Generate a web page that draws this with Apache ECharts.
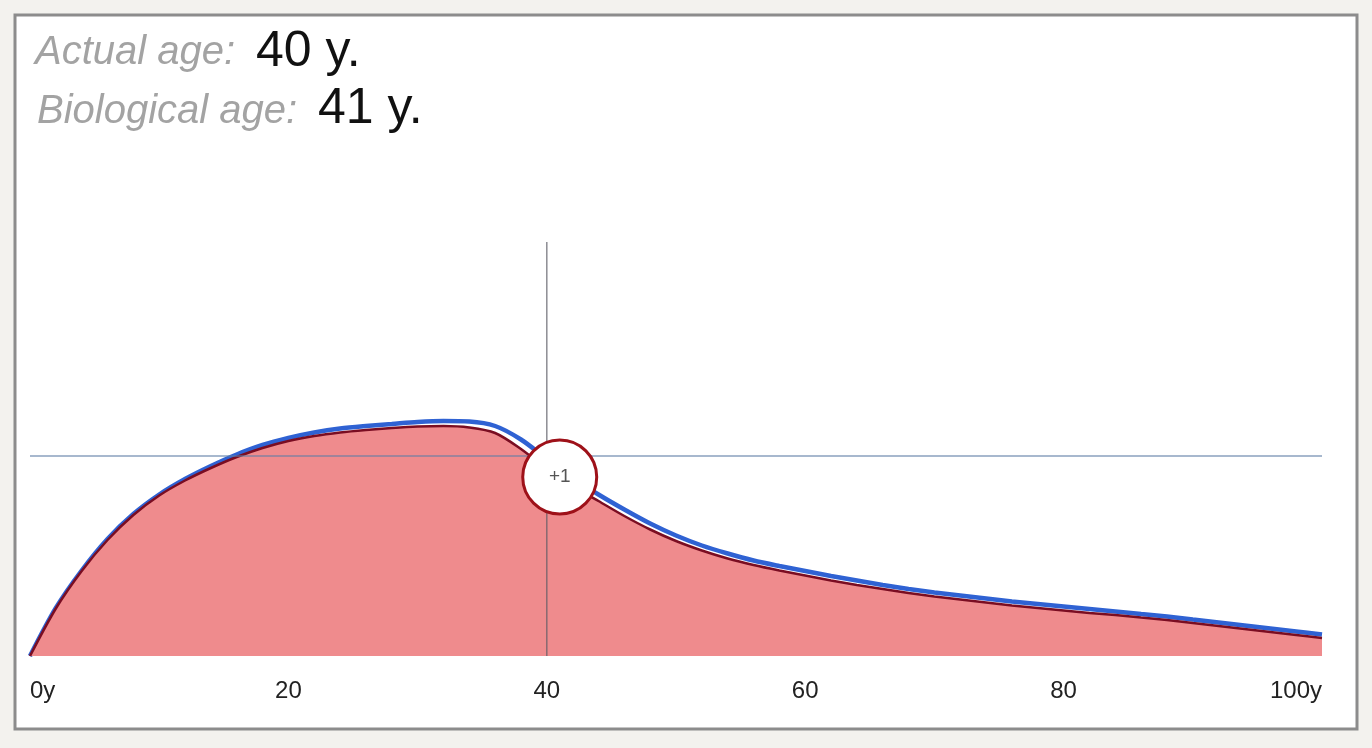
<!DOCTYPE html>
<html>
<head>
<meta charset="utf-8">
<title>Biological age</title>
<script src="https://cdn.jsdelivr.net/npm/echarts@6/dist/echarts.min.js"></script>
<style>
    html, body { margin: 0; padding: 0; background: #f3f2ee; }
    #ageChart { width: 1372px; height: 748px; }
</style>
</head>
<body>
<div id="ageChart"></div>
<script>
// 年龄（x轴），每2年一个点
var ages = [0, 2, 4, 6, 8, 10, 12, 14, 16, 18, 20, 22, 24, 26, 28, 30, 32, 34, 36, 38, 40,
    42, 44, 46, 48, 50, 52, 54, 56, 58, 60, 62, 64, 66, 68, 70, 72, 74, 76, 78, 80,
    82, 84, 86, 88, 90, 92, 94, 96, 98, 100];
// 生物年龄曲线（红色，带填充）
var bioValues = [0, 9.5, 17.0, 23.2, 28.2, 32.1, 35.1, 37.6, 39.8, 41.6, 43.0, 44.0, 44.7, 45.2, 45.6, 45.9, 46.0, 45.7, 44.6, 41.4, 37.4,
    34.0, 31.0, 28.0, 25.3, 23.0, 21.1, 19.5, 18.2, 17.1, 16.1, 15.1, 14.2, 13.4, 12.6, 11.9, 11.3, 10.7, 10.1, 9.6, 9.1,
    8.6, 8.2, 7.7, 7.2, 6.6, 6.0, 5.4, 4.8, 4.2, 3.6];
// 实际年龄曲线（蓝色）
var actualValues = [0, 9.6, 17.1, 23.4, 28.4, 32.3, 35.4, 38.0, 40.3, 42.2, 43.6, 44.7, 45.5, 46.0, 46.4, 46.8, 47.0, 46.9, 46.0, 43.3, 39.4,
    35.6, 32.3, 29.3, 26.5, 24.1, 22.1, 20.5, 19.1, 18.0, 17.0, 16.0, 15.1, 14.2, 13.4, 12.7, 12.1, 11.5, 10.9, 10.4, 9.9,
    9.4, 8.9, 8.4, 7.9, 7.3, 6.7, 6.1, 5.5, 4.9, 4.3];
// x轴刻度
var xTicks = [0, 20, 40, 60, 80, 100];
// 十字线和标记
var actualAge = 40;
var bioAge = 41;
var crossLevel = 40;      // 水平线的值
var crossTop = 82.8;      // 竖线顶端
var markerY = 35.8;       // 圆圈位置
var markerText = '+1';

var FONT = "'Liberation Sans', Arial, Helvetica, sans-serif";

function toPairs(xs, ys) {
    var out = [];
    for (var i = 0; i < xs.length; i++) {
        out.push([xs[i], ys[i]]);
    }
    return out;
}

function createChart() {
    var dom = document.getElementById('ageChart');
    var myChart = echarts.init(dom, null, { renderer: 'canvas' });

    var option = {
        backgroundColor: '#f3f2ee',
        animation: false,
        graphic: [
            {   // 白色边框
                type: 'rect',
                z: -10,
                shape: { x: 15, y: 15, width: 1342, height: 714 },
                style: { fill: '#ffffff', stroke: '#8c8c8c', lineWidth: 3 }
            },
            {
                type: 'text', left: 35, top: 33,
                style: { text: 'Actual age:', font: 'italic 40px ' + FONT, fill: '#a3a3a3' }
            },
            {
                type: 'text', left: 256, top: 27,
                style: { text: actualAge + ' y.', font: '50px ' + FONT, fill: '#111111' }
            },
            {
                type: 'text', left: 37, top: 92,
                style: { text: 'Biological age:', font: 'italic 40px ' + FONT, fill: '#a3a3a3' }
            },
            {
                type: 'text', left: 318, top: 84,
                style: { text: bioAge + ' y.', font: '50px ' + FONT, fill: '#111111' }
            }
        ],
        grid: { left: 30, right: 50, top: 156, bottom: 92, containLabel: false },
        xAxis: {
            type: 'value',
            min: xTicks[0],
            max: xTicks[xTicks.length - 1],
            interval: 20,
            axisLine: { show: false },
            axisTick: { show: false },
            splitLine: { show: false },
            axisLabel: {
                margin: 23,
                fontSize: 24,
                fontFamily: FONT,
                color: '#222222',
                alignMinLabel: 'left',
                alignMaxLabel: 'right',
                formatter: function (v) {
                    if (v === xTicks[0] || v === xTicks[xTicks.length - 1]) {
                        return v + 'y';
                    }
                    return v;
                }
            }
        },
        yAxis: { type: 'value', min: 0, max: 100, show: false },
        series: [
            {   // 蓝色曲线
                name: 'actual',
                type: 'line',
                z: 2,
                smooth: 0.3,
                showSymbol: false,
                data: toPairs(ages, actualValues),
                lineStyle: { color: '#2f62d3', width: 4.5 }
            },
            {   // 红色曲线 + 填充
                name: 'biological',
                type: 'line',
                z: 3,
                smooth: 0.3,
                showSymbol: false,
                data: toPairs(ages, bioValues),
                lineStyle: { color: '#7a0d22', width: 2.5 },
                areaStyle: { color: '#ef8b8d', opacity: 1 }
            },
            {   // 水平线
                type: 'line',
                z: 4,
                showSymbol: false,
                data: [[xTicks[0], crossLevel], [xTicks[xTicks.length - 1], crossLevel]],
                lineStyle: { color: 'rgba(95,125,165,0.55)', width: 2 }
            },
            {   // 竖线
                type: 'line',
                z: 4,
                showSymbol: false,
                data: [[actualAge, 0], [actualAge, crossTop]],
                lineStyle: { color: 'rgba(90,90,100,0.7)', width: 1.5 }
            },
            {   // 差值圆圈
                type: 'scatter',
                z: 6,
                symbolSize: 74,
                data: [[bioAge, markerY]],
                itemStyle: { color: '#ffffff', borderColor: '#9e1119', borderWidth: 3, opacity: 1 },
                label: {
                    show: true,
                    position: 'inside',
                    formatter: markerText,
                    fontSize: 19,
                    fontFamily: FONT,
                    color: '#555555'
                }
            }
        ]
    };
    myChart.setOption(option);
    window.addEventListener('resize', myChart.resize);
}

createChart();
</script>
</body>
</html>
